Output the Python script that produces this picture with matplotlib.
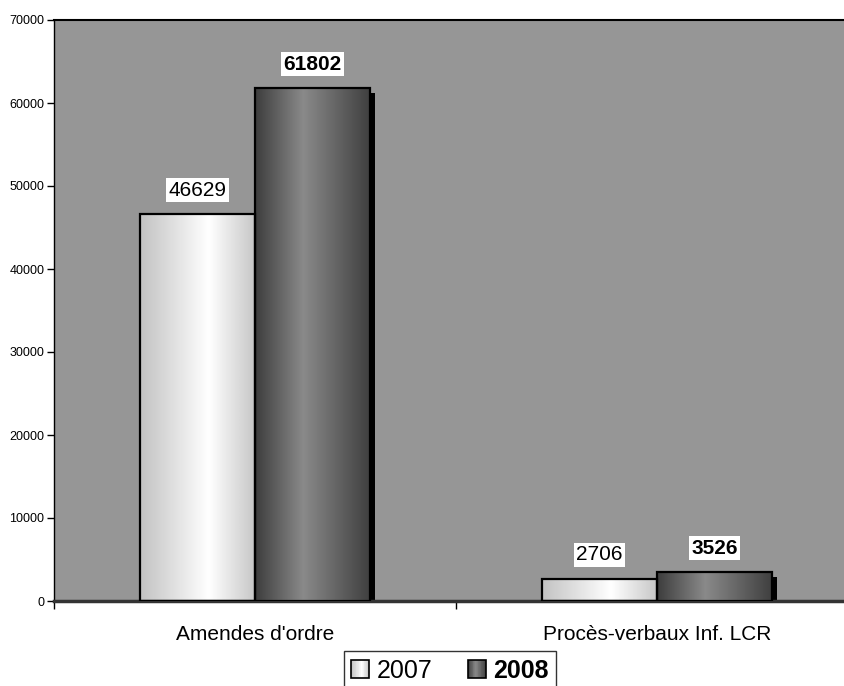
import numpy as np
import matplotlib
matplotlib.use("Agg")
import matplotlib.pyplot as plt
from matplotlib.patches import Rectangle
from matplotlib.legend_handler import HandlerBase
import matplotlib.transforms as mtransforms

plt.rcParams['font.family'] = ['Liberation Sans', 'DejaVu Sans']

categories = ["Amendes d'ordre", "Procès-verbaux Inf. LCR"]
series_names = ["2007", "2008"]
values_2007 = [46629, 2706]
values_2008 = [61802, 3526]
yticks = [0, 10000, 20000, 30000, 40000, 50000, 60000, 70000]

# gradient styles (position, gray level)
grad_2007 = ([0, 0.6, 1], [0.76, 1.0, 0.78])
grad_2008 = ([0, 0.42, 1], [0.24, 0.54, 0.25])

fig = plt.figure(figsize=(8.45, 6.86), dpi=100)
ax = fig.add_axes([54/845, 1-601/686, (858-54)/845, (601-20)/686])
ax.set_facecolor('#969696')

x = np.arange(len(categories))
w = 0.286

def gradient_fill(bar, stops, zorder):
    x0, y0 = bar.get_x(), bar.get_y()
    x1, y1 = x0 + bar.get_width(), y0 + bar.get_height()
    t = np.linspace(0, 1, 256)
    g = np.interp(t, stops[0], stops[1])
    img = np.tile(g, (2, 1))
    im = ax.imshow(img, extent=[x0, x1, y0, y1], aspect='auto', cmap='gray',
                   vmin=0, vmax=1, zorder=zorder, interpolation='bilinear')
    im.set_clip_path(bar)

shadow_off = mtransforms.ScaledTranslation(5/100, -5/100, fig.dpi_scale_trans)

all_bars = []
for vals, offs, stops, bold in [(values_2007, -w/2, grad_2007, False),
                                (values_2008, w/2, grad_2008, True)]:
    bars = ax.bar(x + offs, vals, width=w, facecolor='none', edgecolor='black',
                  linewidth=1.6, zorder=4)
    all_bars.append((bars, stops, bold, vals))

for bars, stops, bold, vals in all_bars:
    for b in bars:
        sh = Rectangle((b.get_x(), b.get_y()), b.get_width(), b.get_height(),
                       facecolor='black', edgecolor='none', zorder=1,
                       transform=ax.transData + shadow_off)
        ax.add_patch(sh)

for i, (bars, stops, bold, vals) in enumerate(all_bars):
    for b, v in zip(bars, vals):
        gradient_fill(b, stops, zorder=2 + i)
        ax.annotate(f"{v}", (b.get_x() + b.get_width()/2, v), xytext=(0, 17),
                    textcoords='offset points', ha='center', va='center',
                    fontsize=15, fontweight='bold' if bold else 'normal',
                    bbox=dict(boxstyle='square,pad=0.12', facecolor='white', edgecolor='none'),
                    zorder=6)
    for b in bars:
        b.set_zorder(3 + i + 0.5)

ax.set_xlim(-0.5, 1.5)
ax.set_ylim(0, 70000)
ax.set_yticks(yticks)
ax.set_yticklabels([str(t) for t in yticks], fontsize=9)
ax.tick_params(axis='y', direction='out', length=5, width=1, pad=2)

ax.set_xticks([-0.5, 0.5, 1.5])
ax.set_xticklabels([])
ax.set_xticks(x, minor=True)
ax.set_xticklabels(categories, minor=True, fontsize=15)
ax.tick_params(axis='x', which='major', direction='out', length=6, width=1)
ax.tick_params(axis='x', which='minor', length=0, pad=17)

for s in ['top', 'right']:
    ax.spines[s].set_color('black')
    ax.spines[s].set_linewidth(1.5)
ax.spines['left'].set_color('black')
ax.spines['left'].set_linewidth(1)
ax.spines['bottom'].set_color('#333333')
ax.spines['bottom'].set_linewidth(2.5)


class GradHandler(HandlerBase):
    def __init__(self, stops):
        super().__init__()
        self.stops = stops

    def create_artists(self, legend, orig_handle, xdescent, ydescent, width,
                       height, fontsize, trans):
        s = min(width, height)
        x0 = -xdescent + (width - s) / 2
        y0 = -ydescent + (height - s) / 2
        n = 24
        arts = []
        for k in range(n):
            t = (k + 0.5) / n
            g = np.interp(t, self.stops[0], self.stops[1])
            r = Rectangle((x0 + k * s / n, y0), s / n + 0.3, s,
                          facecolor=(g, g, g), edgecolor='none', transform=trans)
            arts.append(r)
        arts.append(Rectangle((x0, y0), s, s, facecolor='none',
                              edgecolor='black', linewidth=1.2, transform=trans))
        return arts

h1 = Rectangle((0, 0), 1, 1)
h2 = Rectangle((0, 0), 1, 1)
leg = fig.legend([h1, h2], series_names, loc='upper center',
                 bbox_to_anchor=(450/845, 1 - 651/686), ncol=2, fontsize=18,
                 frameon=True, fancybox=False, edgecolor='black',
                 handlelength=0.7, handleheight=0.7, handletextpad=0.3,
                 columnspacing=1.45, borderpad=0.3, borderaxespad=0,
                 handler_map={h1: GradHandler(grad_2007), h2: GradHandler(grad_2008)})
leg.get_frame().set_linewidth(1)
leg.get_texts()[1].set_fontweight('bold')

fig.savefig('out.png', dpi=100)
